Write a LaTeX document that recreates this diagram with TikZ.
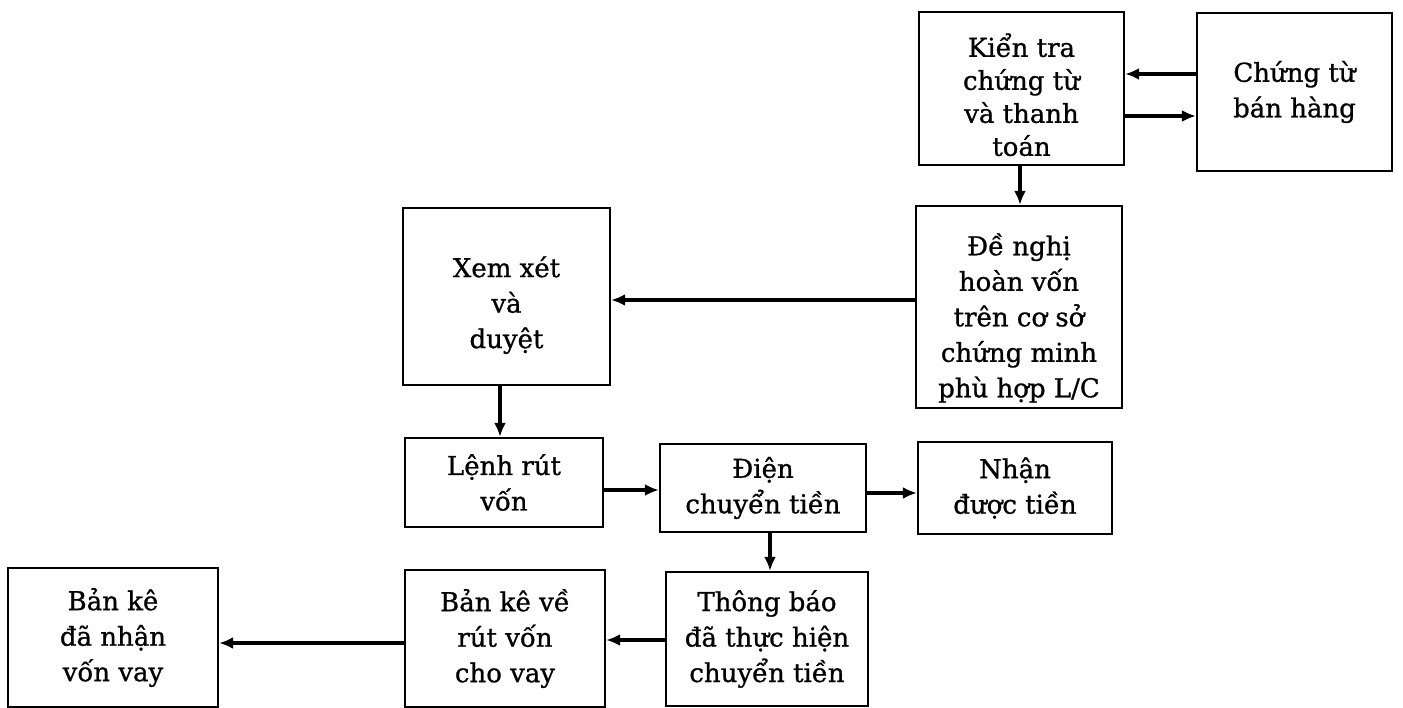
\documentclass[tikz,border=0pt]{standalone}
\usepackage{fontspec}
\setmainfont{DejaVu Serif}[FakeBold=0.9]
\usetikzlibrary{arrows.meta}
\begin{document}
\begin{tikzpicture}[x=1pt,y=-1pt,
  box/.style={draw, line width=2.2pt, rectangle, align=center, inner sep=0pt,
    font=\fontsize{26}{35.5}\selectfont},
  tight/.style={font=\fontsize{26}{33}\selectfont},
  arr/.style={line width=3.2pt, -{Latex[length=14pt,width=12pt]}}]
\useasboundingbox (0,0) rectangle (1403,708);
\node[box, tight, minimum width=205pt, minimum height=153pt] (A) at (1021.5,88.5) {\rule{0pt}{36pt}Kiển tra\\chứng từ\\và thanh\\toán};
\node[box, minimum width=195pt, minimum height=158pt] (B) at (1294.5,92) {Chứng từ\\bán hàng};
\node[box, minimum width=206pt, minimum height=202pt] (C) at (1019,307) {\rule{0pt}{44pt}Đề nghị\\hoàn vốn\\trên cơ sở\\chứng minh\\phù hợp L/C};
\node[box, minimum width=207pt, minimum height=177pt] (D) at (506.5,296.5) {\rule{0pt}{38pt}Xem xét\\và\\duyệt};
\node[box, minimum width=198pt, minimum height=89pt] (E) at (504,482.5) {Lệnh rút\\vốn};
\node[box, minimum width=206pt, minimum height=88pt] (F) at (763,488) {Điện\\chuyển tiền};
\node[box, minimum width=194pt, minimum height=92pt] (G) at (1015,488) {Nhận\\được tiền};
\node[box, minimum width=202pt, minimum height=134pt] (H) at (767,639) {Thông báo\\đã thực hiện\\chuyển tiền};
\node[box, minimum width=200pt, minimum height=137pt] (I) at (505,638.5) {Bản kê về\\rút vốn\\cho vay};
\node[box, minimum width=210pt, minimum height=139pt] (J) at (113,637.5) {Bản kê\\đã nhận\\vốn vay};
\draw[arr] (B.west |- 0,74) -- (A.east |- 0,74);
\draw[arr] (A.east |- 0,116) -- (B.west |- 0,116);
\draw[arr] (A.south -| 1020,0) -- (C.north -| 1020,0);
\draw[arr] (C.west |- 0,300) -- (D.east |- 0,300);
\draw[arr] (D.south -| 500,0) -- (E.north -| 500,0);
\draw[arr] (E.east |- 0,490) -- (F.west |- 0,490);
\draw[arr] (F.east |- 0,493) -- (G.west |- 0,493);
\draw[arr] (F.south -| 770,0) -- (H.north -| 770,0);
\draw[arr] (H.west |- 0,640) -- (I.east |- 0,640);
\draw[arr] (I.west |- 0,643) -- (J.east |- 0,643);
\end{tikzpicture}
\end{document}
